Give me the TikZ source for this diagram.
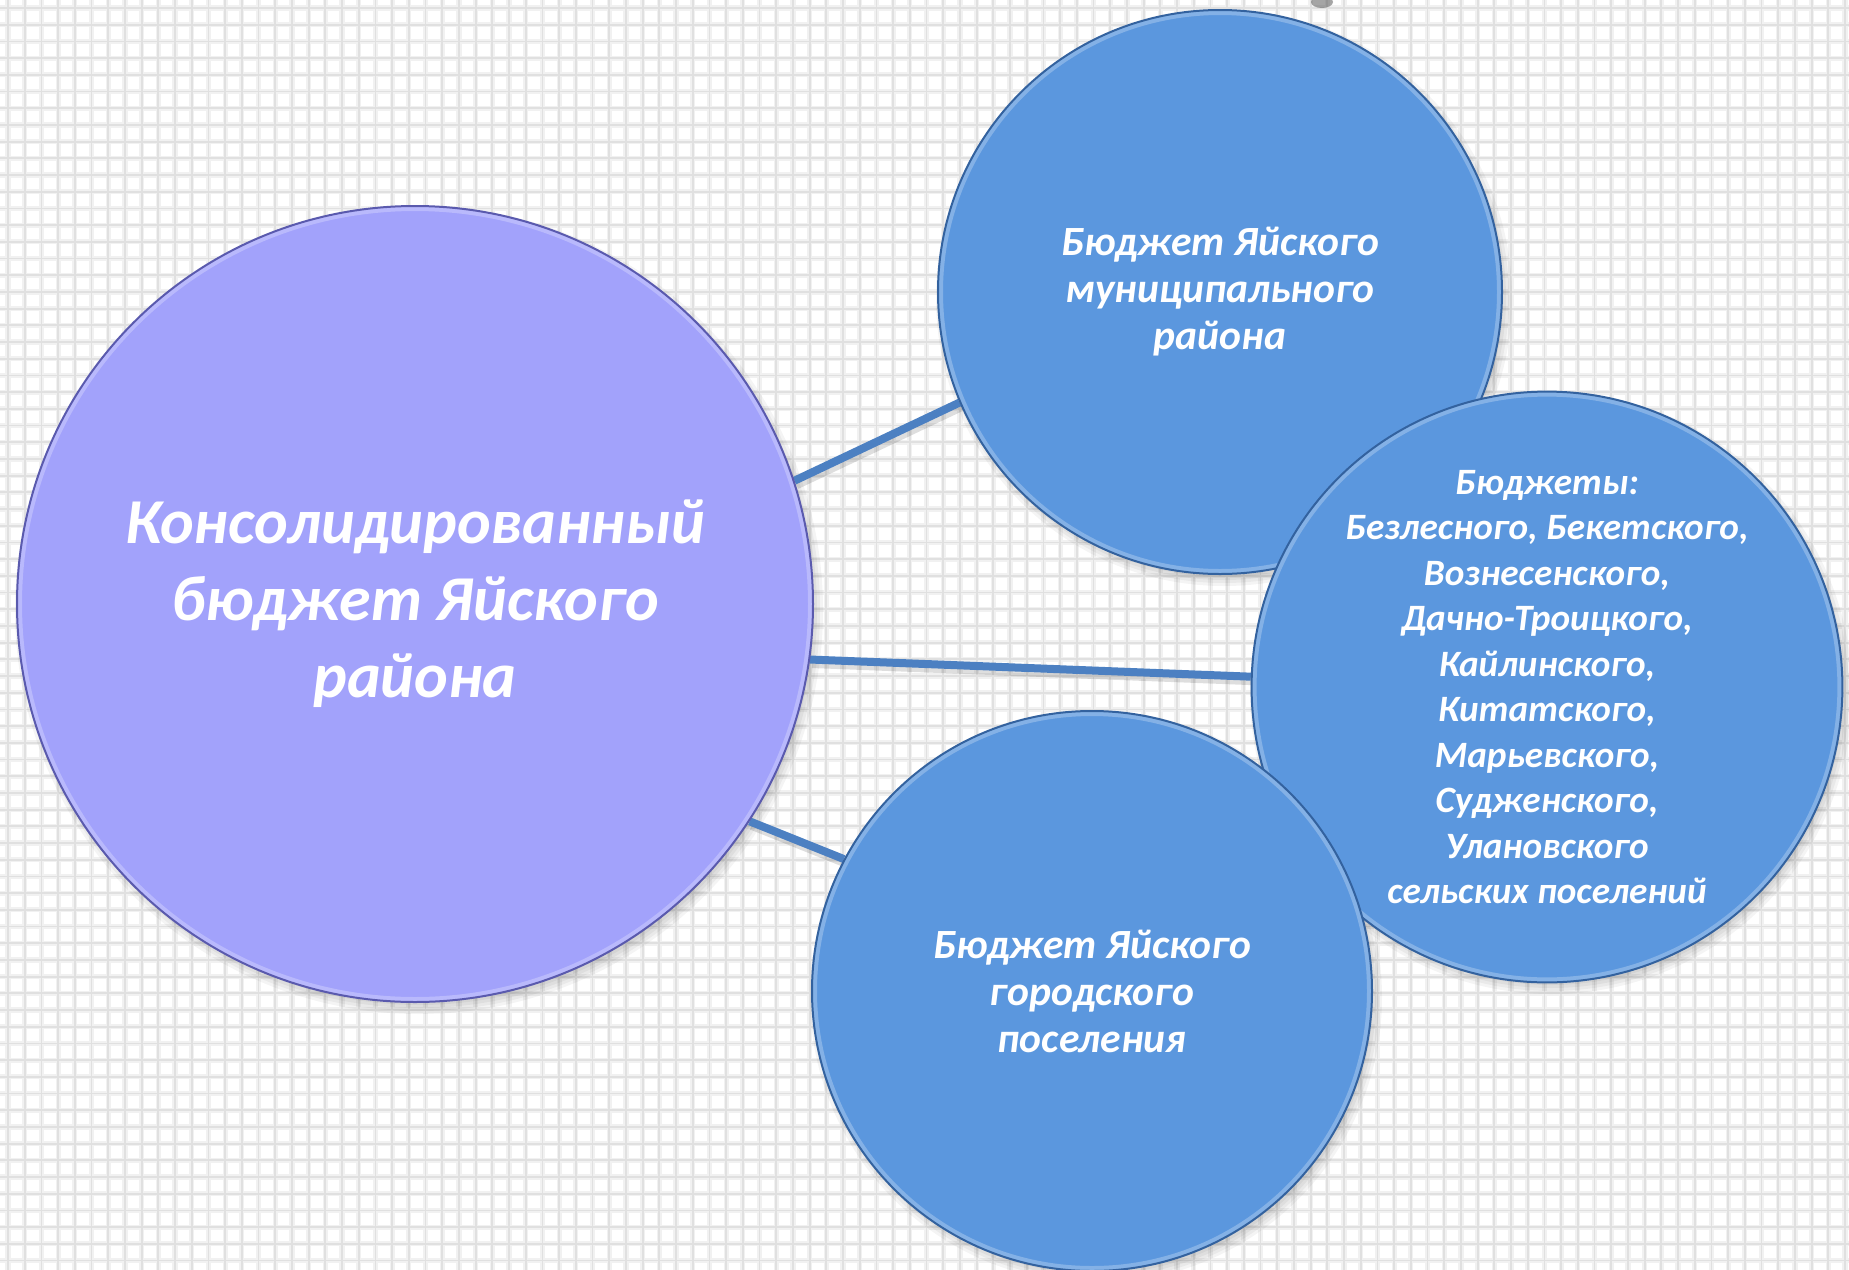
\documentclass[tikz,border=0pt]{standalone}
\usepackage{fontspec}
\setmainfont{Carlito}
\usetikzlibrary{calc}
\definecolor{lav}{HTML}{A2A2FB}
\definecolor{lavedge}{HTML}{5A5AAE}
\definecolor{bfill}{HTML}{5B97DE}
\definecolor{bedge}{HTML}{33629F}
\definecolor{conncol}{HTML}{4C80C2}
\definecolor{gridc}{HTML}{E0E0E0}
\definecolor{gridsoft}{HTML}{F1F1F1}
\pgfdeclarelayer{bg}
\pgfdeclarelayer{shade}
\pgfdeclarelayer{lines}
\pgfsetlayers{bg,shade,lines,main}
\newcommand\softshadow[2]{%
  \foreach \k in {-6,-3,0,3,6}{%
    \fill[black, opacity=0.045] ($(#1.center)+(4,6)$) circle[radius=#2+\k];}}
\tikzset{
  bubble/.style={circle, inner sep=0pt, align=center, text=white, line width=1pt,
    path picture={\draw[white, opacity=0.25, line width=5pt]
      let \p1=(path picture bounding box.east), \p2=(path picture bounding box.center)
      in (\p2) circle[radius=\x1-\x2];}},
  lavbubble/.style={bubble, fill=lav, draw=lavedge},
  bluebubble/.style={bubble, fill=bfill, draw=bedge},
  conn/.style={draw=conncol, line width=4pt,
    preaction={draw=black, draw opacity=0.13, line width=4.5pt, transform canvas={xshift=1pt,yshift=-2pt}}},
  gridline/.style={draw=gridc, line width=0.9pt},
  gridblur/.style={draw=gridsoft, line width=2.6pt},
}
\begin{document}
\begin{tikzpicture}[x=0.5pt, y=-0.5pt]
\useasboundingbox (0,0) rectangle (1849,1270);
\begin{pgfonlayer}{bg}
  \fill[white] (0,0) rectangle (1849,1270);
  \foreach \i in {0,...,111} {
    \draw[gridblur] ({\i*16.7+8},0) -- ({\i*16.7+8},1270);
  }
  \foreach \j in {0,...,76} {
    \draw[gridblur] (0,{\j*16.7+8}) -- (1849,{\j*16.7+8});
  }
  \foreach \i in {0,...,111} {
    \draw[gridline] ({\i*16.7+8},0) -- ({\i*16.7+8},1270);
  }
  \foreach \j in {0,...,76} {
    \draw[gridline] (0,{\j*16.7+8}) -- (1849,{\j*16.7+8});
  }
  \fill[black!70, opacity=0.5] (1322,2) ellipse [x radius=11, y radius=6];
\end{pgfonlayer}

\node[lavbubble, minimum size=398pt,
  font=\bfseries\itshape\fontsize{32}{38.5}\selectfont] (big) at (415,604)
  {Консолидированный\\бюджет Яйского\\района};

\node[bluebubble, minimum size=282pt,
  font=\bfseries\itshape\fontsize{20.8}{23.5}\selectfont] (top) at (1220,292)
  {Бюджет Яйского\\муниципального\\района};

\node[bluebubble, minimum size=295pt,
  font=\bfseries\itshape\fontsize{18.6}{22.75}\selectfont] (right) at (1547,687)
  {Бюджеты:\\Безлесного, Бекетского,\\Вознесенского,\\Дачно-Троицкого,\\Кайлинского,\\Китатского,\\Марьевского,\\Судженского,\\Улановского\\сельских поселений};

\node[bluebubble, minimum size=280pt,
  font=\bfseries\itshape\fontsize{20.8}{23.5}\selectfont] (bot) at (1092,991)
  {Бюджет Яйского\\городского\\поселения};

\begin{pgfonlayer}{shade}
  \softshadow{big}{398}
  \softshadow{top}{282}
  \softshadow{right}{295}
  \softshadow{bot}{280}
\end{pgfonlayer}

\begin{pgfonlayer}{lines}
  \draw[conn] (big.18) -- (top.203);
  \draw[conn] (big.-8.5) -- (right.178);
  \draw[conn] (big.-33) -- (bot.152.7);
\end{pgfonlayer}
\end{tikzpicture}
\end{document}
